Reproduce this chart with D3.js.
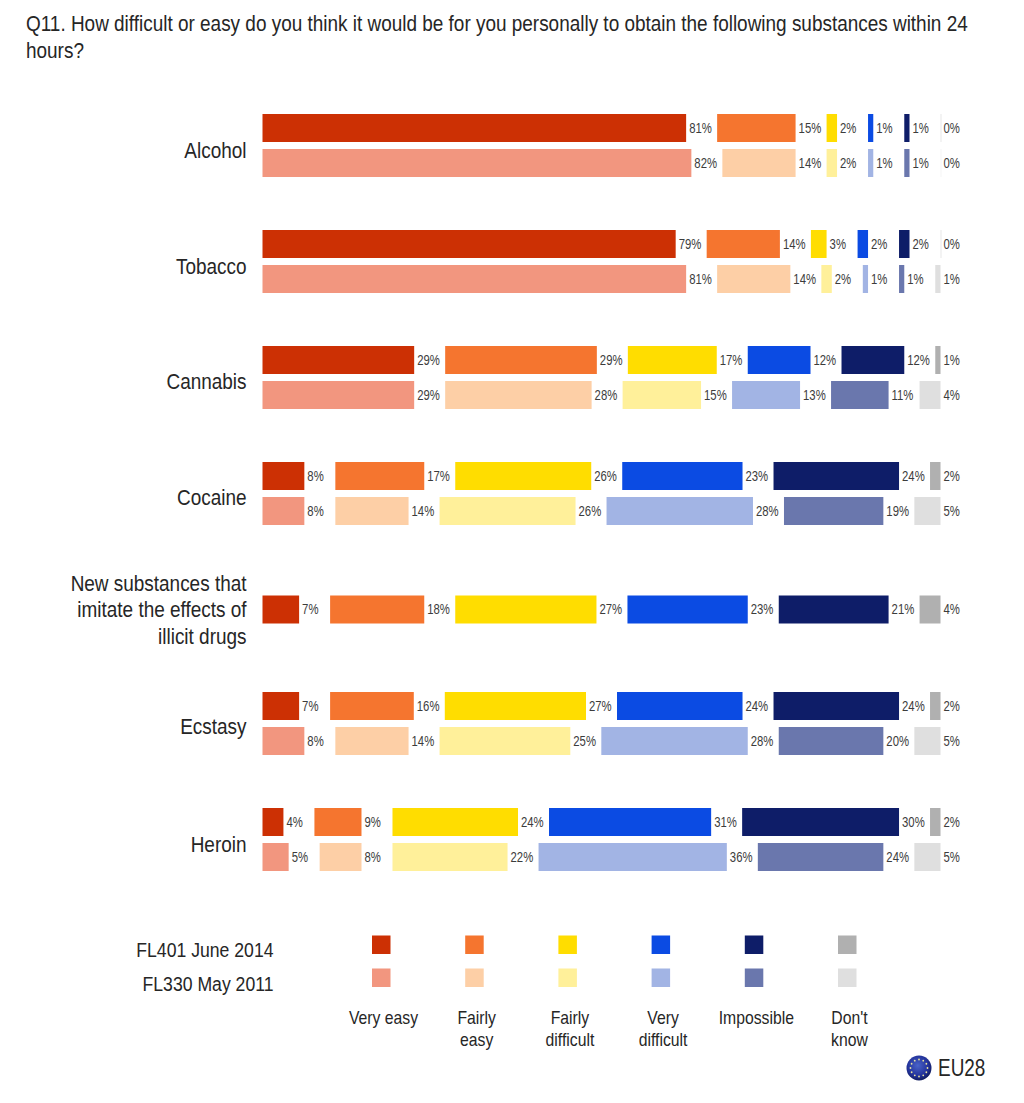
<!DOCTYPE html>
<html>
<head>
<meta charset="utf-8">
<script src="https://cdn.jsdelivr.net/npm/d3@7"></script>
<style>
  body { margin: 0; background: #fff; }
  svg { display: block; }
  text { font-family: "Liberation Sans", Arial, sans-serif; fill: #262626; }
  .pct { fill: #3c3c3c; }
</style>
</head>
<body>
<svg width="1024" height="1103"></svg>
<script>
const categories = ["Alcohol", "Tobacco", "Cannabis", "Cocaine", "New substances", "Ecstasy", "Heroin"];
const answers = ["Very easy", "Fairly easy", "Fairly difficult", "Very difficult", "Impossible", "Don't know"];
const waves = ["FL401 June 2014", "FL330 May 2011"];

const values2014 = [
    [81, 15, 2, 1, 1, 0],
    [79, 14, 3, 2, 2, 0],
    [29, 29, 17, 12, 12, 1],
    [8, 17, 26, 23, 24, 2],
    [7, 18, 27, 23, 21, 4],
    [7, 16, 27, 24, 24, 2],
    [4, 9, 24, 31, 30, 2]
];
const values2011 = [
    [82, 14, 2, 1, 1, 0],
    [81, 14, 2, 1, 1, 1],
    [29, 28, 15, 13, 11, 4],
    [8, 14, 26, 28, 19, 5],
    null,
    [8, 14, 25, 28, 20, 5],
    [5, 8, 22, 36, 24, 5]
];

const colors2014 = ["#cc3004", "#f5752f", "#ffdd00", "#0b4be3", "#0e1d68", "#b0b0b0"];
const colors2011 = ["#f2967f", "#fdcfa6", "#fff09a", "#a2b4e4", "#6a77ad", "#dfdfdf"];

const svg = d3.select("svg");

const LEFT = 262.5;
const GAP = 31;
const BAR_H = 28;
const SQUEEZE = 0.862; // reference type is a horizontally condensed Arial

const x = d3.scaleLinear().domain([0, 100]).range([0, 523]);
const y = d3.scaleBand().domain(categories).range([87.5, 899.5]);
// the last two rows sit slightly closer in the reference
const rowNudge = [0, 0, 0, 0, 0, -2, -2];
const labelNudge = [5, 5, 4, 4, 0, 3, 5];

function label(parent, px, py, str, size, anchor, sx = SQUEEZE) {
    return parent.append("text")
        .attr("transform", `translate(${px},${py}) scale(${sx},1)`)
        .attr("text-anchor", anchor || "start")
        .attr("font-size", size)
        .text(str);
}

// title
label(svg, 26, 31, "Q11. How difficult or easy do you think it would be for you personally to obtain the following substances within 24", 22);
label(svg, 26, 58, "hours?", 22);

// one row of segments, each one pushed right by a gap that holds its label
function drawRow(vals, colors, top) {
    let cum = 0;
    const segs = vals.map((v, i) => {
        const s = { v, i, start: LEFT + x(cum) + GAP * i };
        cum += v;
        return s;
    });
    const g = svg.append("g");
    g.selectAll("rect").data(segs).enter().append("rect")
        .attr("x", d => d.start)
        .attr("y", top)
        .attr("width", d => Math.max(x(d.v), 1))
        .attr("height", BAR_H)
        .attr("fill", d => colors[d.i])
        .attr("opacity", d => d.v === 0 ? 0.3 : 1);
    segs.forEach(d => label(g, d.start + x(d.v) + 3, top + BAR_H / 2 + 4.5, d.v + "%", 14, "start", 0.81).attr("class", "pct"));
}

categories.forEach((c, k) => {
    const mid = y(c) + y.bandwidth() / 2 + rowNudge[k];
    if (values2011[k]) {
        drawRow(values2014[k], colors2014, mid - BAR_H - 3.5);
        drawRow(values2011[k], colors2011, mid + 3.5);
    } else {
        drawRow(values2014[k], colors2014, mid - BAR_H / 2);
    }
});

// category labels
const labelLines = [["Alcohol"], ["Tobacco"], ["Cannabis"], ["Cocaine"],
    ["New substances that", "imitate the effects of", "illicit drugs"], ["Ecstasy"], ["Heroin"]];
categories.forEach((c, k) => {
    const mid = y(c) + y.bandwidth() / 2 + rowNudge[k] + labelNudge[k];
    const lines = labelLines[k];
    lines.forEach((t, j) => {
        label(svg, 246.5, mid + 7.5 + (j - (lines.length - 1) / 2) * 26.5, t, 22, "end");
    });
});

// legend
const legendX = d3.scalePoint().domain(answers).range([381, 847]);
[colors2014, colors2011].forEach((colors, w) => {
    svg.append("g").selectAll("rect").data(answers).enter().append("rect")
        .attr("x", d => legendX(d) - 9)
        .attr("y", 935.5 + w * 33)
        .attr("width", 18.5)
        .attr("height", 18.5)
        .attr("fill", (d, i) => colors[i]);
    label(svg, 273.5, 957 + w * 34, waves[w], 21, "end", 0.84);
});

const answerLines = [["Very easy"], ["Fairly", "easy"], ["Fairly", "difficult"], ["Very", "difficult"], ["Impossible"], ["Don't", "know"]];
answers.forEach((a, i) => {
    answerLines[i].forEach((t, j) => {
        label(svg, legendX(a) + 2.5, 1024 + j * 22, t, 19, "middle", 0.83);
    });
});

// EU28 badge
const defs = svg.append("defs");
const grad = defs.append("radialGradient").attr("id", "euBall").attr("cx", "45%").attr("cy", "40%").attr("r", "60%");
grad.append("stop").attr("offset", "0%").attr("stop-color", "#4a63c8");
grad.append("stop").attr("offset", "70%").attr("stop-color", "#22329a");
grad.append("stop").attr("offset", "100%").attr("stop-color", "#101c5e");
svg.append("circle").attr("cx", 919).attr("cy", 1068).attr("r", 12.5).attr("fill", "url(#euBall)");
svg.append("g").selectAll("circle").data(d3.range(12)).enter().append("circle")
    .attr("cx", d => 919 + 8.5 * Math.cos(d * Math.PI / 6))
    .attr("cy", d => 1068 + 8.5 * Math.sin(d * Math.PI / 6))
    .attr("r", 0.9)
    .attr("fill", "#e8e3a0");
label(svg, 938, 1076, "EU28", 24, "start", 0.79);
</script>
</body>
</html>
